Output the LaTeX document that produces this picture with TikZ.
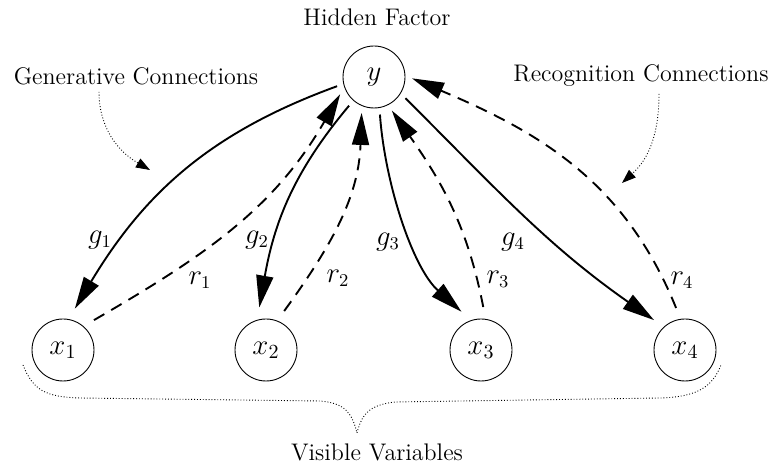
\documentclass[tikz,border=0pt]{standalone}
\usetikzlibrary{arrows.meta}
\begin{document}
\begin{tikzpicture}[x=0.5pt,y=0.5pt,
  var/.style={draw,circle,line width=0.45pt,minimum size=31pt,inner sep=0pt,font=\fontsize{14}{16}\selectfont},
  gen/.style={line width=0.95pt,-{Triangle[length=16pt,width=8.5pt]}},
  rec/.style={gen,dash pattern=on 6pt off 4pt},
  lbl/.style={font=\fontsize{13.5}{15}\selectfont},
  txt/.style={font=\fontsize{12}{14}\selectfont},
  hint/.style={densely dotted,line width=0.45pt,-{Triangle[length=7pt,width=5pt]}}]
\useasboundingbox(0,0)rectangle(772,465);
\node[var,outer sep=3.5pt](y)at(374,388){$y$};
\foreach \kn/\kx in {1/63,2/266,3/481,4/685}{\node[var,outer sep=6pt](x\kn)at(\kx,115){$x_{\kn}$};}
\node[txt](hidden)at(377,448){Hidden Factor};
\node[txt](generative)at(136,389){Generative Connections};
\node[txt](recognition)at(641,389){Recognition Connections};
\node[txt](visible)at(377,13){Visible Variables};
\coordinate(gtip)at(150,295);
\coordinate(rtip)at(622,282);
\draw[hint]([xshift=-18.5pt]generative.south)to[out=-90,in=150](gtip);
\draw[hint]([xshift=9pt]recognition.south)to[out=-90,in=42](rtip);
\draw[gen](y.194)to[out=200,in=59](x1.74);
\draw[rec](x1.44)to[out=30,in=240](y.207);
\draw[gen](y.229)to[out=230,in=80](x2.99);
\draw[rec](x2.65)to[out=54,in=268](y.251);
\draw[gen](y.279)to[out=274,in=138,looseness=0.8](x3.117);
\draw[rec](x3.87)to[out=101,in=305](y.298);
\draw[gen](y.326)to[out=315,in=145](x4.136);
\draw[rec](x4.102)to[out=112,in=337](y.358);
\foreach \kn/\kx/\ky in {1/100/225,2/257/225,3/388/223,4/513/223}{\node[lbl](g\kn)at(\kx,\ky){$g_{\kn}$};}
\foreach \kn/\kx/\ky in {1/200/185,2/338/187,3/498/186,4/682/185}{\node[lbl](r\kn)at(\kx,\ky){$r_{\kn}$};}
\draw[densely dotted,line width=0.45pt](23,100)..controls(33,75)and(45,68)..(80,67)--(320,64)..controls(345,62)and(352,52)..(357,32)..controls(362,52)and(370,60)..(395,63)--(660,67)..controls(700,68)and(713,80)..(721,100);
\end{tikzpicture}
\end{document}
